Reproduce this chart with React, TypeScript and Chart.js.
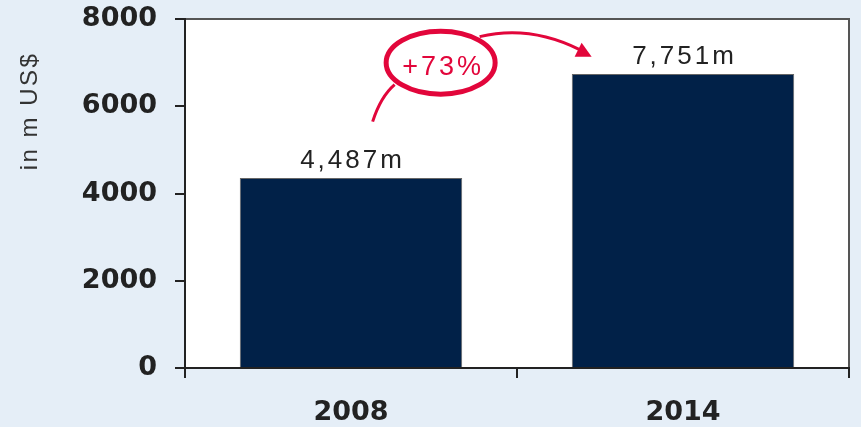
import React, { useEffect, useRef } from "react";
import { Chart, registerables } from "chart.js";

Chart.register(...registerables);

const categories = ["2008", "2014"];
const values = [4355, 6740];
const valueLabels = ["4,487m", "7,751m"];
const yTicks = [0, 2000, 4000, 6000, 8000];
const growthLabel = "+73%";
const yTitle = "in m US$";

const BG = "#e5eef7";
const NAVY = "#012148";
const RED = "#e2063b";
const AXIS = "#222222";

export default function App() {
  const ref = useRef<HTMLCanvasElement>(null);

  useEffect(() => {
    document.body.style.margin = "0";
    const canvas = ref.current!;

    const bgPlugin = {
      id: "bgPlugin",
      beforeDraw(chart: any) {
        const { ctx, chartArea: a } = chart;
        ctx.save();
        ctx.fillStyle = BG;
        ctx.fillRect(0, 0, chart.width, chart.height);
        ctx.fillStyle = "#ffffff";
        ctx.fillRect(a.left, a.top, a.right - a.left, a.bottom - a.top);
        ctx.strokeStyle = "#555555";
        ctx.lineWidth = 2;
        ctx.strokeRect(a.left, a.top, a.right - a.left, a.bottom - a.top);
        ctx.restore();
      },
    };

    const annotPlugin = {
      id: "annotPlugin",
      afterDatasetsDraw(chart: any) {
        const { ctx, chartArea: a } = chart;
        const xs = chart.scales.x;
        const ys = chart.scales.y;
        ctx.save();
        // bar value labels
        const meta = chart.getDatasetMeta(0);
        ctx.fillStyle = "#222222";
        ctx.font = "26px 'Liberation Sans'";
        (ctx as any).letterSpacing = "3px";
        ctx.textAlign = "center";
        ctx.textBaseline = "alphabetic";
        meta.data.forEach((bar: any, i: number) => {
          ctx.fillText(valueLabels[i], bar.x + 1.5, bar.y - 10);
        });

        // growth annotation
        const x0 = xs.getPixelForValue(0);
        const x1 = xs.getPixelForValue(1);
        const cx = x0 + (x1 - x0) * 0.27;
        const cy = ys.getPixelForValue(7000);
        ctx.strokeStyle = RED;
        ctx.fillStyle = RED;
        ctx.lineWidth = 5;
        ctx.beginPath();
        ctx.ellipse(cx, cy, 54.5, 31.5, 0, 0, Math.PI * 2);
        ctx.stroke();

        ctx.font = "27px 'Liberation Sans'";
        (ctx as any).letterSpacing = "3px";
        ctx.fillText(growthLabel, cx + 2.5, cy + 12);

        ctx.lineWidth = 3;
        ctx.beginPath();
        ctx.moveTo(cx - 68, cy + 59);
        ctx.quadraticCurveTo(cx - 60, cy + 34, cx - 46, cy + 22);
        ctx.stroke();

        ctx.beginPath();
        ctx.moveTo(cx + 39, cy - 26);
        ctx.quadraticCurveTo(cx + 89, cy - 38, cx + 139, cy - 13);
        ctx.stroke();

        ctx.beginPath();
        ctx.moveTo(cx + 151, cy - 6);
        ctx.lineTo(cx + 134, cy - 6);
        ctx.lineTo(cx + 141, cy - 20);
        ctx.closePath();
        ctx.fill();

        // y-axis title
        (ctx as any).letterSpacing = "2.5px";
        ctx.fillStyle = "#333333";
        ctx.font = "24px 'Liberation Sans'";
        ctx.textBaseline = "middle";
        ctx.translate(30, a.top + 93);
        ctx.rotate(-Math.PI / 2);
        ctx.fillText(yTitle, 1, 0);
        ctx.restore();
      },
    };

    const chart = new Chart(canvas, {
      type: "bar",
      data: {
        labels: categories,
        datasets: [
          {
            data: values,
            backgroundColor: NAVY,
            borderColor: "#666666",
            borderWidth: 1,
            categoryPercentage: 1,
            barPercentage: 0.67,
          },
        ],
      },
      options: {
        responsive: false,
        animation: false,
        devicePixelRatio: 1,
        layout: { padding: { top: 19, right: 12, left: 0, bottom: 0 } },
        plugins: {
          legend: { display: false },
          tooltip: { enabled: false },
          title: { display: false },
        },
        scales: {
          x: {
            offset: true,
            grid: {
              offset: true,
              drawOnChartArea: false,
              drawTicks: true,
              tickLength: 10,
              color: AXIS,
              lineWidth: 2,
            },
            border: { display: true, color: AXIS, width: 2 },
            ticks: {
              color: AXIS,
              padding: 19,
              font: { family: "DejaVu Sans", weight: "bold", size: 27 },
            },
            afterFit(scale: any) {
              scale.height = 59;
              scale.paddingLeft = 0;
              scale.paddingRight = 0;
              scale.paddingTop = 0;
              scale.paddingBottom = 0;
            },
          },
          y: {
            min: 0,
            max: 8000,
            grid: {
              drawOnChartArea: false,
              drawTicks: true,
              tickLength: 10,
              color: AXIS,
              lineWidth: 2,
            },
            border: { display: true, color: AXIS, width: 2 },
            ticks: {
              color: AXIS,
              padding: 18,
              font: { family: "DejaVu Sans", weight: "bold", size: 27 },
              callback: (v: any) => String(v),
            },
            afterBuildTicks(scale: any) {
              scale.ticks = yTicks.map((v) => ({ value: v }));
            },
            afterFit(scale: any) {
              scale.width = 185;
              scale.paddingTop = 0;
              scale.paddingBottom = 0;
              scale.paddingLeft = 0;
              scale.paddingRight = 0;
            },
          },
        },
      },
      plugins: [bgPlugin, annotPlugin],
    });

    return () => chart.destroy();
  }, []);

  return (
    <div style={{ width: 861, height: 427 }}>
      <canvas ref={ref} width={861} height={427} style={{ display: "block" }} />
    </div>
  );
}
